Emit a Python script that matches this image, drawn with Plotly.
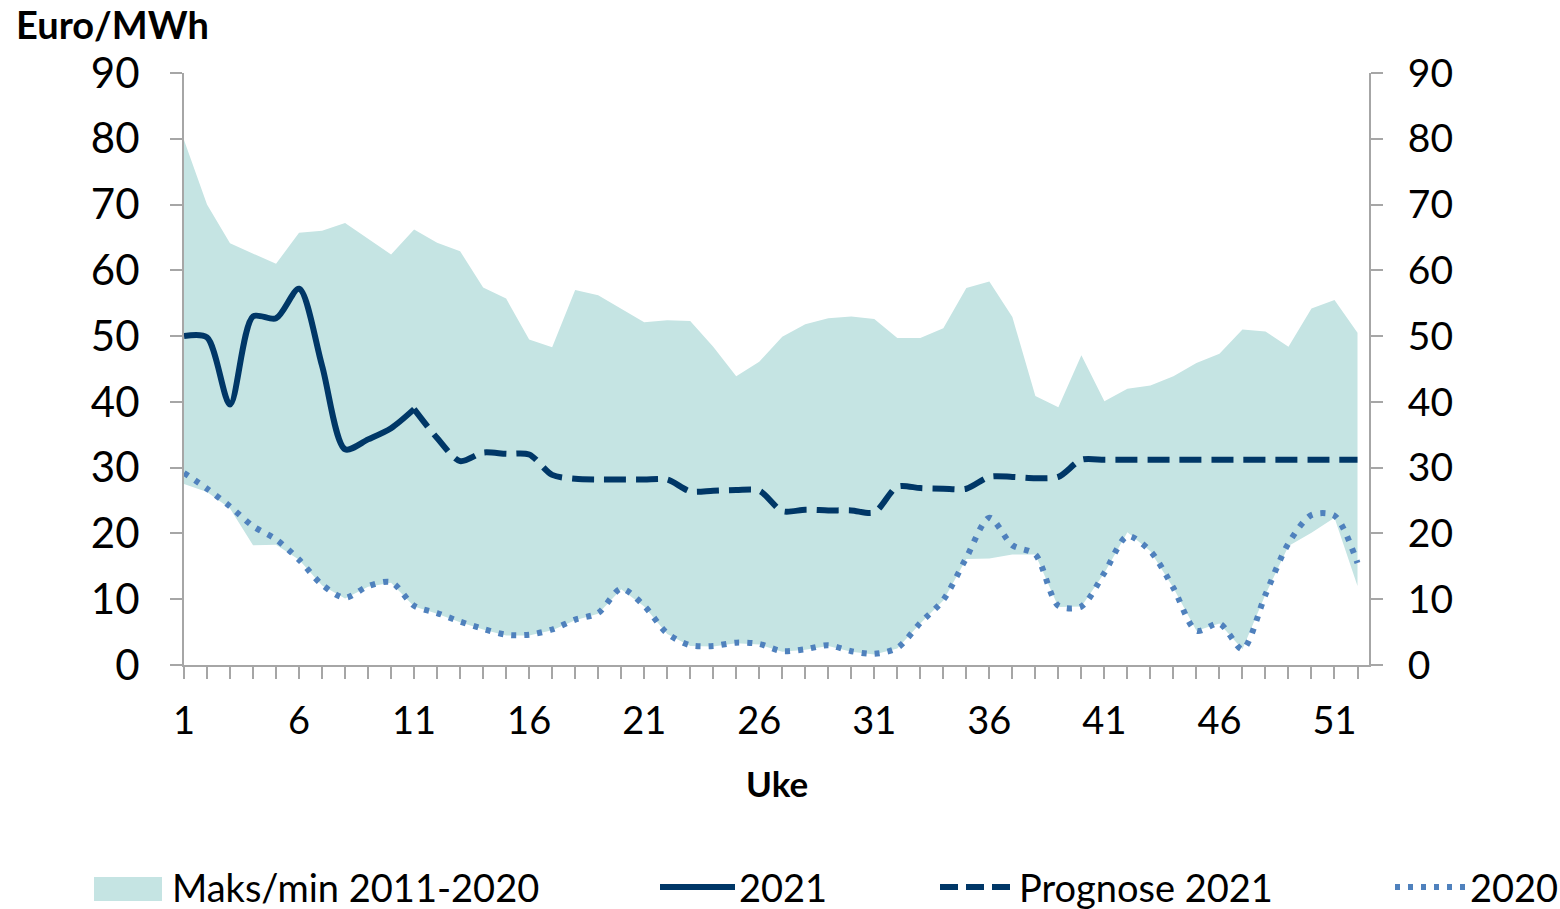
import plotly.graph_objects as go

weeks = list(range(1, 53))

maks_2011_2020 = [79.8, 70.0, 64.1, 62.6, 61.0, 65.7, 66.0, 67.2, 64.8, 62.4,
                  66.2, 64.2, 62.9, 57.4, 55.7, 49.5, 48.3, 57.0, 56.2, 54.2,
                  52.1, 52.4, 52.3, 48.4, 43.9, 46.1, 49.9, 51.8, 52.7, 53.0,
                  52.6, 49.7, 49.7, 51.2, 57.3, 58.3, 52.9, 40.9, 39.2, 47.1,
                  40.1, 42.0, 42.5, 43.9, 45.9, 47.3, 51.0, 50.7, 48.4, 54.2,
                  55.5, 50.5]

min_2011_2020 = [27.5, 26.3, 23.8, 18.2, 18.3, 16.0, 12.1, 10.1, 11.9, 12.5,
                 8.9, 7.8, 6.5, 5.4, 4.5, 4.5, 5.3, 6.8, 7.8, 11.5,
                 8.9, 4.7, 2.9, 2.8, 3.3, 3.1, 2.0, 2.3, 2.9, 2.0,
                 1.6, 2.5, 6.3, 9.8, 16.1, 16.2, 16.8, 16.8, 8.8, 8.9,
                 14.0, 20.2, 17.3, 11.7, 5.2, 6.3, 2.4, 10.7, 18.1, 20.1,
                 22.4, 12.0]

y2020 = [29.2, 26.8, 24.1, 21.1, 19.1, 16.0, 12.2, 10.2, 12.0, 12.6,
         9.0, 7.9, 6.6, 5.5, 4.6, 4.6, 5.4, 6.9, 7.9, 11.6,
         9.0, 4.8, 3.0, 2.9, 3.4, 3.2, 2.1, 2.4, 3.0, 2.1,
         1.7, 2.6, 6.4, 9.9, 16.3, 22.4, 18.2, 16.8, 9.0, 8.9,
         14.0, 19.6, 17.3, 11.7, 5.2, 6.3, 2.4, 10.7, 18.5, 22.8,
         22.7, 15.5]

weeks_2021 = list(range(1, 12))
y2021 = [50.0, 49.8, 39.6, 53.0, 52.7, 57.2, 45.5, 32.8, 34.3, 36.0, 38.9]

weeks_prognose = list(range(11, 53))
prognose_2021 = [38.9, 34.5, 31.0, 32.3, 32.1, 32.0, 28.9, 28.3, 28.2, 28.2,
                 28.2, 28.2, 26.4, 26.5, 26.6, 26.5, 23.4, 23.6, 23.5, 23.5,
                 23.2, 27.1, 26.9, 26.8, 26.8, 28.6, 28.6, 28.4, 28.6, 31.2,
                 31.2, 31.2, 31.2, 31.2, 31.2, 31.2, 31.2, 31.2, 31.2, 31.2,
                 31.2, 31.2]

x_ticks = [1, 6, 11, 16, 21, 26, 31, 36, 41, 46, 51]
y_ticks = [0, 10, 20, 30, 40, 50, 60, 70, 80, 90]

BAND = "#C5E4E3"
NAVY = "#003767"
DOTBLUE = "#4F81BD"
AXIS = "#A6A6A6"
FONT = "Lato"
FS = 38

# plot area in pixels
L, R, T, B = 184, 1369, 73, 665
W, H = 1560, 909


def px(x):
    return (x - L) / (R - L)


def py(y):
    return (B - y) / (B - T)


fig = go.Figure()

fig.add_trace(go.Scatter(x=weeks, y=min_2011_2020, mode="lines",
                         line=dict(width=0, color=BAND), showlegend=False,
                         hoverinfo="skip"))
fig.add_trace(go.Scatter(x=weeks, y=maks_2011_2020, mode="lines",
                         line=dict(width=0, color=BAND), fill="tonexty",
                         fillcolor=BAND, name="Maks/min 2011-2020",
                         showlegend=False))
fig.add_trace(go.Scatter(x=weeks, y=y2020, mode="lines", name="2020",
                         line=dict(color=DOTBLUE, width=6, dash="5px,8px",
                                   shape="spline", smoothing=0.8),
                         showlegend=False))
fig.add_trace(go.Scatter(x=weeks_prognose, y=prognose_2021, mode="lines",
                         name="Prognose 2021",
                         line=dict(color=NAVY, width=6, dash="22px,10px",
                                   shape="spline", smoothing=0.8),
                         showlegend=False))
fig.add_trace(go.Scatter(x=weeks_2021, y=y2021, mode="lines", name="2021",
                         line=dict(color=NAVY, width=6, shape="spline",
                                   smoothing=0.8),
                         showlegend=False))
# invisible trace to draw the right-hand axis
fig.add_trace(go.Scatter(x=weeks, y=maks_2011_2020, yaxis="y2", mode="lines",
                         line=dict(width=0), opacity=0, showlegend=False,
                         hoverinfo="skip"))

axis_common = dict(showgrid=False, zeroline=False, showline=True,
                   linecolor=AXIS, linewidth=2, ticks="outside", ticklen=12,
                   tickwidth=2, tickcolor=AXIS)

fig.update_layout(
    width=W, height=H,
    margin=dict(l=L, r=W - R, t=T, b=H - B, pad=0),
    paper_bgcolor="white", plot_bgcolor="white",
    font=dict(family=FONT, size=FS, color="black"),
    xaxis=dict(range=[1, 52.5], tickmode="array", tickvals=x_ticks,
               ticktext=[str(v) for v in x_ticks], ticklabelstandoff=9,
               tickfont=dict(family=FONT, size=38, color="black"),
               minor=dict(tickmode="array", tickvals=weeks, ticks="outside",
                          ticklen=12, tickwidth=2, tickcolor=AXIS),
               **axis_common),
    yaxis=dict(range=[0, 90], tickmode="array", tickvals=y_ticks,
               ticklabelstandoff=22,
               tickfont=dict(family=FONT, size=42, color="black"),
               **axis_common),
    yaxis2=dict(range=[0, 90], tickmode="array", tickvals=y_ticks,
                overlaying="y", side="right", ticklabelstandoff=17,
                tickfont=dict(family=FONT, size=39, color="black"),
                **axis_common),
    showlegend=False,
)

annotations = [
    dict(text="<b>Euro/MWh</b>", x=px(14), y=py(24), xanchor="left",
         yanchor="middle", font=dict(size=38)),
    dict(text="<b>Uke</b>", x=px(777), y=py(783), xanchor="center",
         yanchor="middle", font=dict(size=35)),
]

legend_y = 887
legend_items = [
    ("Maks/min 2011-2020", 170),
    ("2021", 737),
    ("Prognose 2021", 1017),
    ("2020", 1468),
]
for text, x0 in legend_items:
    annotations.append(dict(text=text, x=px(x0), y=py(legend_y),
                            xanchor="left", yanchor="middle",
                            font=dict(size=FS)))
for a in annotations:
    a.update(xref="paper", yref="paper", showarrow=False)

shapes = [
    dict(type="rect", x0=px(94), x1=px(162), y0=py(877), y1=py(901),
         fillcolor=BAND, line=dict(width=0)),
    dict(type="line", x0=px(660), x1=px(735), y0=py(legend_y), y1=py(legend_y),
         line=dict(color=NAVY, width=6)),
    dict(type="line", x0=px(940), x1=px(1015), y0=py(legend_y), y1=py(legend_y),
         line=dict(color=NAVY, width=6, dash="18px,8px")),
    dict(type="line", x0=px(1395), x1=px(1465), y0=py(legend_y), y1=py(legend_y),
         line=dict(color=DOTBLUE, width=6, dash="5px,8px")),
]
for s in shapes:
    s.update(xref="paper", yref="paper", layer="above")

fig.update_layout(annotations=annotations, shapes=shapes)

fig.write_html("out.html",
               config={"displayModeBar": False},
               post_script="document.body.style.margin='0';"
                           "document.body.style.overflow='hidden';")
